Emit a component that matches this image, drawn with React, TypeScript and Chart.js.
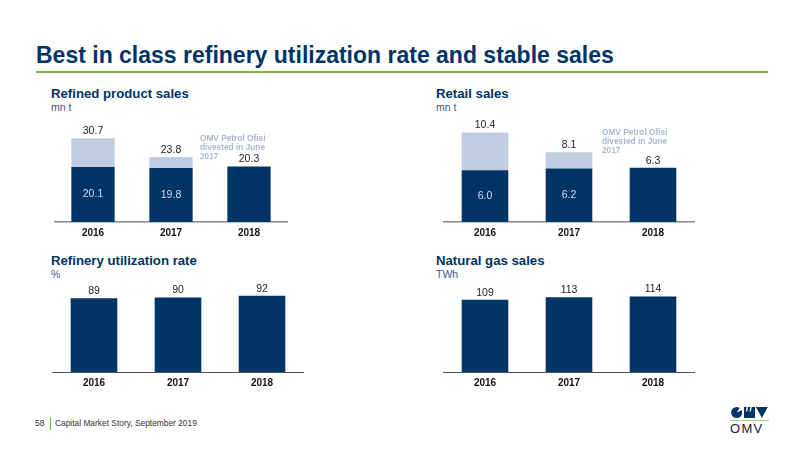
import { useEffect, useRef } from 'react';
import Chart from 'chart.js/auto';

const years = ['2016', '2017', '2018'];

const refinedBase = [20.1, 19.8, 20.3];
const refinedDivested = [10.6, 4.0, 0];
const refinedTotals = ['30.7', '23.8', '20.3'];
const refinedInside = ['20.1', '19.8', ''];

const retailBase = [6.0, 6.2, 6.3];
const retailDivested = [4.4, 1.9, 0];
const retailTotals = ['10.4', '8.1', '6.3'];
const retailInside = ['6.0', '6.2', ''];

const utilization = [89, 90, 92];
const utilizationTotals = ['89', '90', '92'];

const gasSales = [109, 113, 114];
const gasTotals = ['109', '113', '114'];

const NAVY = '#003366';
const LIGHT = '#c0cde0';
const FONT = '"Liberation Sans", Arial, sans-serif';

interface BarPanelProps {
  left: number;
  top: number;
  width: number;
  height: number;
  yMax: number;
  base: number[];
  divested?: number[];
  totals: string[];
  inside?: string[];
  axisColor: string;
  axisWidth: number;
}

function BarPanel(props: BarPanelProps) {
  const { left, top, width, height, yMax, base, divested, totals, inside, axisColor, axisWidth } = props;
  const ref = useRef<HTMLCanvasElement>(null);

  useEffect(() => {
    if (!ref.current) return;

    const datasets: any[] = [
      { data: base, backgroundColor: NAVY, categoryPercentage: 1, barPercentage: 0.555 },
    ];
    if (divested) {
      datasets.push({ data: divested, backgroundColor: LIGHT, categoryPercentage: 1, barPercentage: 0.555 });
    }

    // value labels above the stack and inside the dark segment
    const labels = {
      id: 'labels',
      afterDatasetsDraw(chart: Chart) {
        const ctx = chart.ctx;
        const last = chart.getDatasetMeta(chart.data.datasets.length - 1).data;
        const first = chart.getDatasetMeta(0).data;
        ctx.save();
        ctx.font = `10.5px ${FONT}`;
        ctx.textAlign = 'center';
        ctx.textBaseline = 'middle';
        totals.forEach((text, i) => {
          const topY = Math.min(last[i].y, first[i].y);
          ctx.fillStyle = '#222222';
          ctx.fillText(text, first[i].x, topY - 7);
          if (inside && inside[i]) {
            ctx.fillStyle = '#d5deeb';
            ctx.fillText(inside[i], first[i].x, (first[i].y + chart.scales.y.bottom) / 2);
          }
        });
        ctx.restore();
      },
    };

    const chart = new Chart(ref.current, {
      type: 'bar',
      data: { labels: years, datasets },
      plugins: [labels],
      options: {
        responsive: false,
        animation: false,
        devicePixelRatio: 1,
        layout: { padding: 0 },
        plugins: { legend: { display: false }, tooltip: { enabled: false } },
        scales: {
          x: {
            stacked: true,
            afterFit: (scale: any) => {
              scale.height = 28;
            },
            grid: { display: false, drawTicks: false },
            border: { color: axisColor, width: axisWidth },
            ticks: {
              color: '#111111',
              padding: 5,
              font: { family: FONT, size: 10, weight: 'bold' },
              maxRotation: 0,
            },
          },
          y: {
            stacked: true,
            display: false,
            min: 0,
            max: yMax,
          },
        },
      },
    });

    return () => {
      chart.destroy();
    };
  }, []);

  return (
    <canvas
      ref={ref}
      width={width}
      height={height}
      style={{ position: 'absolute', left, top, width, height }}
    />
  );
}

function Text(props: { x: number; y: number; size: number; lh?: number; color: string; bold?: boolean; children: any }) {
  return (
    <div
      style={{
        position: 'absolute',
        left: props.x,
        top: props.y,
        fontSize: props.size,
        lineHeight: `${props.lh ?? props.size + 1}px`,
        color: props.color,
        fontWeight: props.bold ? 'bold' : 'normal',
        whiteSpace: 'pre',
      }}
    >
      {props.children}
    </div>
  );
}

const NOTE_COLOR = '#a8b8d0';
const UNIT_COLOR = '#3d5a85';

export default function App() {
  return (
    <div
      style={{
        position: 'fixed',
        left: 0,
        top: 0,
        width: 800,
        height: 451,
        background: '#fff',
        overflow: 'hidden',
        fontFamily: FONT,
      }}
    >
      <Text x={36} y={43} size={23} color={NAVY} bold>
        Best in class refinery utilization rate and stable sales
      </Text>
      <div style={{ position: 'absolute', left: 36, top: 71, width: 732, height: 2, background: '#7ab648' }} />

      <Text x={51} y={87} size={13.2} color={NAVY} bold>Refined product sales</Text>
      <Text x={51} y={102} size={10.5} color={UNIT_COLOR}>mn t</Text>
      <Text x={436} y={87} size={13.2} color={NAVY} bold>Retail sales</Text>
      <Text x={436} y={102} size={10.5} color={UNIT_COLOR}>mn t</Text>
      <Text x={51} y={254} size={13.2} color={NAVY} bold>Refinery utilization rate</Text>
      <Text x={51} y={269} size={10.5} color={UNIT_COLOR}>%</Text>
      <Text x={436} y={254} size={13.2} color={NAVY} bold>Natural gas sales</Text>
      <Text x={436} y={269} size={10.5} color={UNIT_COLOR}>TWh</Text>

      <BarPanel
        left={54} top={110} width={234} height={140} yMax={41}
        base={refinedBase} divested={refinedDivested} totals={refinedTotals} inside={refinedInside}
        axisColor="#8a8a8a" axisWidth={1.5}
      />
      <BarPanel
        left={443} top={110} width={252} height={140} yMax={13}
        base={retailBase} divested={retailDivested} totals={retailTotals} inside={retailInside}
        axisColor="#8a8a8a" axisWidth={1.5}
      />
      <BarPanel
        left={52} top={280} width={252} height={120} yMax={111}
        base={utilization} totals={utilizationTotals}
        axisColor="#555555" axisWidth={1}
      />
      <BarPanel
        left={443} top={280} width={252} height={120} yMax={139}
        base={gasSales} totals={gasTotals}
        axisColor="#555555" axisWidth={1}
      />

      <Text x={200} y={134} size={8.3} lh={9} color={NOTE_COLOR} bold>{'OMV Petrol Ofisi\ndivested in June\n2017'}</Text>
      <Text x={602} y={128} size={8.3} lh={9} color={NOTE_COLOR} bold>{'OMV Petrol Ofisi\ndivested in June\n2017'}</Text>

      <Text x={35} y={418} size={8.4} lh={10} color="#333333">58</Text>
      <div style={{ position: 'absolute', left: 50, top: 417, width: 1, height: 13, background: '#7ab648' }} />
      <Text x={55} y={418} size={8.4} lh={10} color="#333333">Capital Market Story, September 2019</Text>

      <svg style={{ position: 'absolute', left: 730, top: 407, width: 39, height: 11 }} viewBox="0 0 40 12">
        <circle cx="6" cy="6" r="6" fill={NAVY} />
        <path d="M6 6 L10 0 L12.5 3 Z" fill="#fff" />
        <path d="M14 0 H26 V12 H14 Z" fill={NAVY} />
        <path d="M17 0 L16 5 H17.5 L18.5 0 Z M21 0 L20 5 H21.5 L22.5 0 Z" fill="#fff" />
        <path d="M27 0 H40 L33.5 12 Z" fill={NAVY} />
      </svg>
      <div style={{ position: 'absolute', left: 730, top: 420, width: 39, height: 1, background: '#a5cf82' }} />
      <Text x={730} y={422} size={13} color="#222222">
        <span style={{ letterSpacing: 1.3 }}>OMV</span>
      </Text>
    </div>
  );
}
